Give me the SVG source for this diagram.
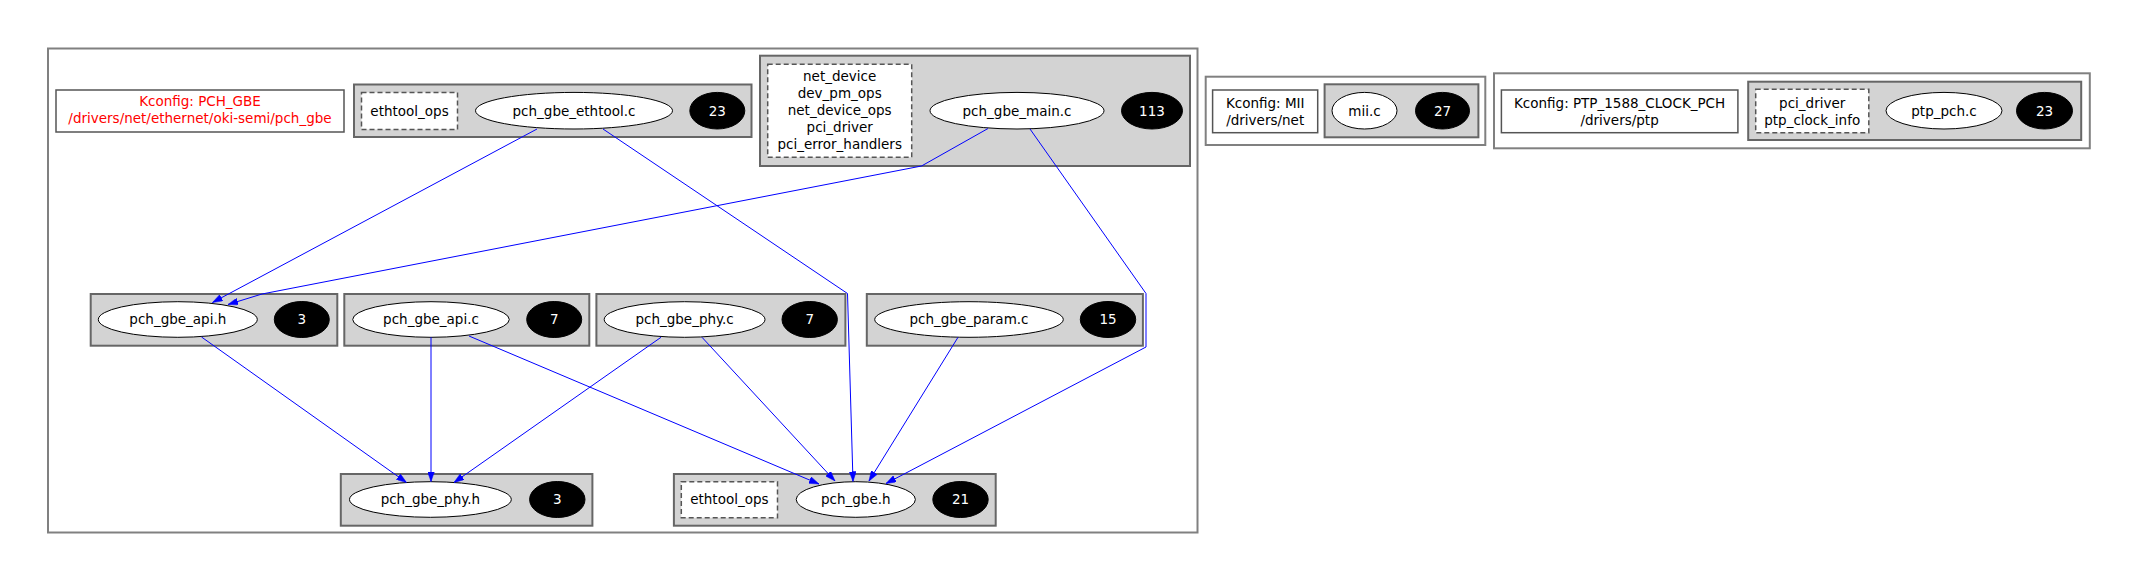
<svg xmlns="http://www.w3.org/2000/svg" width="2136" height="582" viewBox="0 0 2136 582">
<style>
text{font-family:"DejaVu Sans","Liberation Sans",sans-serif;font-size:13.5px;text-anchor:middle;fill:#000}
.outer{fill:#fff;stroke:#808080;stroke-width:2}
.clu{fill:#d3d3d3;stroke:#666;stroke-width:2}
.kc{fill:#fff;stroke:#555;stroke-width:1.5}
.dash{fill:#fff;stroke:#555;stroke-width:1.5;stroke-dasharray:5,3}
.file{fill:#fff;stroke:#000;stroke-width:1}
.cnt{fill:#000;stroke:#000}
.w{fill:#fff}
.red{fill:#ff0000}
.e{fill:none;stroke:#0000ff;stroke-width:1;marker-end:url(#ah)}
</style>
<defs>
<marker id="ah" markerUnits="userSpaceOnUse" markerWidth="10" markerHeight="7" refX="10" refY="3.5" orient="auto">
<path d="M0,0 L10,3.5 L0,7 z" fill="#0000ff" stroke="#0000ff" stroke-width="0.5"/>
</marker>
</defs>
<rect width="2136" height="582" fill="#fff"/>

<g id="cluster_pch_gbe">
<rect class="outer" x="48" y="48.5" width="1149.5" height="484"/>
</g>
<g id="kconfig_pch_gbe">
<rect class="kc" x="56" y="90" width="288" height="42"/>
<text class="red" x="200" y="106">Kconfig: PCH_GBE</text>
<text class="red" x="200" y="123">/drivers/net/ethernet/oki-semi/pch_gbe</text>
</g>

<g id="cluster_ethtool">
<rect class="clu" x="354" y="84.5" width="397.5" height="52.5"/>
<g id="ethtool_ops_1">
<rect class="dash" x="361.5" y="92.5" width="96" height="37"/>
<text x="409.5" y="115.5">ethtool_ops</text>
</g>
<g id="pch_gbe_ethtool_c">
<ellipse class="file" cx="574" cy="110.7" rx="98.5" ry="18.3"/>
<text x="574" y="115.5">pch_gbe_ethtool.c</text>
</g>
<g id="cnt_ethtool">
<ellipse class="cnt" cx="717.3" cy="110.7" rx="27.5" ry="18.3"/>
<text class="w" x="717.3" y="115.5">23</text>
</g>
</g>

<g id="cluster_main">
<rect class="clu" x="760" y="55.7" width="430" height="110.3"/>
<g id="main_structs">
<rect class="dash" x="767.7" y="64.3" width="144" height="93"/>
<text x="839.7" y="80.8">net_device</text>
<text x="839.7" y="98">dev_pm_ops</text>
<text x="839.7" y="115.3">net_device_ops</text>
<text x="839.7" y="132.2">pci_driver</text>
<text x="839.7" y="149.2">pci_error_handlers</text>
</g>
<g id="pch_gbe_main_c">
<ellipse class="file" cx="1017" cy="110.7" rx="87" ry="18.3"/>
<text x="1017" y="115.5">pch_gbe_main.c</text>
</g>
<g id="cnt_main">
<ellipse class="cnt" cx="1152" cy="110.7" rx="30.5" ry="18.3"/>
<text class="w" x="1152" y="115.5">113</text>
</g>
</g>

<g id="cluster_api_h">
<rect class="clu" x="90.7" y="294" width="246.6" height="51.7"/>
<g id="pch_gbe_api_h">
<ellipse class="file" cx="177.8" cy="319.5" rx="79.5" ry="17.8"/>
<text x="177.8" y="324.3">pch_gbe_api.h</text>
</g>
<g id="cnt_api_h">
<ellipse class="cnt" cx="301.8" cy="319.5" rx="27.5" ry="18"/>
<text class="w" x="301.8" y="324.3">3</text>
</g>
</g>

<g id="cluster_api_c">
<rect class="clu" x="344.3" y="294" width="245" height="51.7"/>
<g id="pch_gbe_api_c">
<ellipse class="file" cx="431" cy="319.5" rx="78.3" ry="17.8"/>
<text x="431" y="324.3">pch_gbe_api.c</text>
</g>
<g id="cnt_api_c">
<ellipse class="cnt" cx="554.2" cy="319.5" rx="27.5" ry="18"/>
<text class="w" x="554.2" y="324.3">7</text>
</g>
</g>

<g id="cluster_phy_c">
<rect class="clu" x="596.4" y="294" width="249" height="51.7"/>
<g id="pch_gbe_phy_c">
<ellipse class="file" cx="684.6" cy="319.5" rx="80.4" ry="17.8"/>
<text x="684.6" y="324.3">pch_gbe_phy.c</text>
</g>
<g id="cnt_phy_c">
<ellipse class="cnt" cx="809.7" cy="319.5" rx="27.7" ry="18"/>
<text class="w" x="809.7" y="324.3">7</text>
</g>
</g>

<g id="cluster_param_c">
<rect class="clu" x="866.8" y="294" width="276.1" height="51.7"/>
<g id="pch_gbe_param_c">
<ellipse class="file" cx="969" cy="319.5" rx="94.3" ry="17.8"/>
<text x="969" y="324.3">pch_gbe_param.c</text>
</g>
<g id="cnt_param_c">
<ellipse class="cnt" cx="1108" cy="319.5" rx="27.7" ry="18"/>
<text class="w" x="1108" y="324.3">15</text>
</g>
</g>

<g id="cluster_phy_h">
<rect class="clu" x="340.8" y="474" width="251.6" height="51.7"/>
<g id="pch_gbe_phy_h">
<ellipse class="file" cx="430.4" cy="499.5" rx="80.9" ry="17.8"/>
<text x="430.4" y="504.3">pch_gbe_phy.h</text>
</g>
<g id="cnt_phy_h">
<ellipse class="cnt" cx="557.3" cy="499.5" rx="27.7" ry="18"/>
<text class="w" x="557.3" y="504.3">3</text>
</g>
</g>

<g id="cluster_gbe_h">
<rect class="clu" x="673.9" y="474" width="321.8" height="51.7"/>
<g id="ethtool_ops_2">
<rect class="dash" x="681.3" y="481.7" width="96.2" height="36"/>
<text x="729.4" y="504.3">ethtool_ops</text>
</g>
<g id="pch_gbe_h">
<ellipse class="file" cx="855.8" cy="499.5" rx="59.6" ry="17.8"/>
<text x="855.8" y="504.3">pch_gbe.h</text>
</g>
<g id="cnt_gbe_h">
<ellipse class="cnt" cx="960.5" cy="499.5" rx="27.7" ry="18"/>
<text class="w" x="960.5" y="504.3">21</text>
</g>
</g>

<g id="cluster_mii">
<rect class="outer" x="1205.7" y="76.7" width="279.6" height="68.3"/>
<g id="kconfig_mii">
<rect class="kc" x="1212.6" y="90" width="105.1" height="42.7"/>
<text x="1265.2" y="107.8">Kconfig: MII</text>
<text x="1265.2" y="125">/drivers/net</text>
</g>
<g id="cluster_mii_c">
<rect class="clu" x="1324.6" y="84.3" width="153.8" height="53"/>
<g id="mii_c">
<ellipse class="file" cx="1364.5" cy="110.7" rx="32.5" ry="18.3"/>
<text x="1364.5" y="115.5">mii.c</text>
</g>
<g id="cnt_mii">
<ellipse class="cnt" cx="1442.5" cy="110.7" rx="27" ry="18.3"/>
<text class="w" x="1442.5" y="115.5">27</text>
</g>
</g>
</g>

<g id="cluster_ptp">
<rect class="outer" x="1494" y="73.3" width="595.8" height="75"/>
<g id="kconfig_ptp">
<rect class="kc" x="1501.4" y="90" width="236.5" height="42.7"/>
<text x="1619.6" y="107.8">Kconfig: PTP_1588_CLOCK_PCH</text>
<text x="1619.6" y="125">/drivers/ptp</text>
</g>
<g id="cluster_ptp_pch_c">
<rect class="clu" x="1748.2" y="81.7" width="333" height="58.3"/>
<g id="ptp_structs">
<rect class="dash" x="1755.7" y="89.3" width="113.1" height="43.4"/>
<text x="1812.2" y="107.8">pci_driver</text>
<text x="1812.2" y="124.8">ptp_clock_info</text>
</g>
<g id="ptp_pch_c">
<ellipse class="file" cx="1944" cy="110.7" rx="58" ry="18.3"/>
<text x="1944" y="115.5">ptp_pch.c</text>
</g>
<g id="cnt_ptp">
<ellipse class="cnt" cx="2044.5" cy="110.7" rx="28" ry="18.3"/>
<text class="w" x="2044.5" y="115.5">23</text>
</g>
</g>
</g>

<g id="connectors">
<path class="e" d="M537,129 L212.5,302.5"/>
<path class="e" d="M603,129 L847.5,293.5 L853,481.5"/>
<path class="e" d="M988,128.5 L921.5,166 L262,294 L228,304.5"/>
<path class="e" d="M1030,129 L1146,293.5 L1146,347 L886,483.5"/>
<path class="e" d="M201.5,337 L406.5,482.5"/>
<path class="e" d="M431,337.3 L431,481.5"/>
<path class="e" d="M469,336 L819,484"/>
<path class="e" d="M661,337.3 L454,482.5"/>
<path class="e" d="M702,337.3 L835,481"/>
<path class="e" d="M958,337.3 L869,481"/>
</g>
</svg>
